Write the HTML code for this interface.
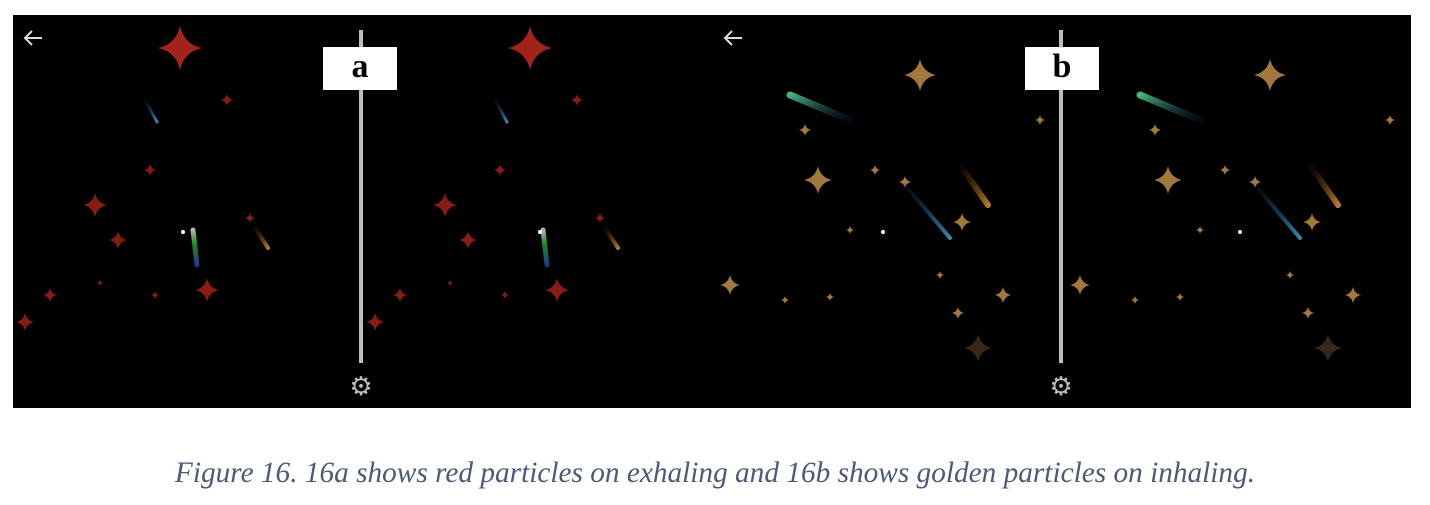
<!DOCTYPE html>
<html><head><meta charset="utf-8">
<style>
html,body{margin:0;padding:0;background:#fff;width:1430px;height:505px;overflow:hidden}
#panel{position:absolute;left:13px;top:15px;width:1398px;height:393px;background:#000}
.lbl{position:absolute;top:47px;width:74px;height:43px;background:#fff;font-family:"Liberation Serif",serif;font-weight:bold;font-size:34px;text-align:center;line-height:40px;color:#000}
#caption{position:absolute;left:0;width:1430px;top:457px;text-align:center;font-family:"Liberation Serif",serif;font-style:italic;font-size:29.3px;color:#4a5a78;white-space:nowrap}
</style></head><body>
<div id="panel"></div>
<svg id="svg" width="1430" height="505" style="position:absolute;left:0;top:0">
<defs>
<linearGradient id="gBlue" x1="0" y1="0" x2="1" y2="1"><stop offset="0" stop-color="#1a3a6a" stop-opacity="0.2"/><stop offset="1" stop-color="#4fc3ff"/></linearGradient>
<linearGradient id="gOrange" x1="0" y1="0" x2="1" y2="1"><stop offset="0" stop-color="#6a3a10" stop-opacity="0.2"/><stop offset="1" stop-color="#ffb040"/></linearGradient>
<linearGradient id="gGreen" x1="1" y1="1" x2="0" y2="0"><stop offset="0" stop-color="#1a3a6a" stop-opacity="0.2"/><stop offset="1" stop-color="#60ffb0"/></linearGradient>
<linearGradient id="gMulti" x1="0" y1="0" x2="0" y2="1"><stop offset="0" stop-color="#fff"/><stop offset="0.4" stop-color="#30c030"/><stop offset="1" stop-color="#3050c0"/></linearGradient>
</defs>
</svg>
<div class="lbl" style="left:323px">a</div>
<div class="lbl" style="left:1025px">b</div>
<div id="caption">Figure 16. 16a shows red particles on exhaling and 16b shows golden particles on inhaling.</div>
<script>
const svg=document.getElementById('svg');
const NS='http://www.w3.org/2000/svg';
const redStars=[[180,48,22],[227,100,6],[150,170,6],[95,205,12],[118,240,9],[250,218,5],[207,290,12],[50,295,7],[25,322,9],[155,295,4],[100,283,3]];
const goldStars=[[920,75,16],[805,130,6],[818,180,14],[875,170,5],[905,182,6],[962,222,9],[1003,295,8],[958,313,6],[730,285,10],[830,297,4],[978,348,14],[785,300,4],[940,275,4],[850,230,4],[1040,120,5]];
const comets=[[145,100,157,122,'url(#gBlue)',3],[193,230,197,265,'url(#gMulti)',5],[255,228,268,248,'url(#gOrange)',4],[790,95,850,120,'url(#gGreen)',7],[962,168,988,205,'url(#gOrange)',6],[905,185,950,238,'url(#gBlue)',4]];
function star(cx,cy,r,col,op){
  const p=document.createElementNS(NS,'path');
  const k=r*0.18;
  p.setAttribute('d',`M${cx},${cy-r}Q${cx+k},${cy-k} ${cx+r},${cy}Q${cx+k},${cy+k} ${cx},${cy+r}Q${cx-k},${cy+k} ${cx-r},${cy}Q${cx-k},${cy-k} ${cx},${cy-r}Z`);
  p.setAttribute('fill',col);p.setAttribute('opacity',op);
  
  
  svg.appendChild(p);
}
function comet(x1,y1,x2,y2,g,w){
  const l=document.createElementNS(NS,'line');
  l.setAttribute('x1',x1);l.setAttribute('y1',y1);l.setAttribute('x2',x2);l.setAttribute('y2',y2);
  l.setAttribute('stroke',g);l.setAttribute('stroke-width',w);l.setAttribute('stroke-linecap','round');l.setAttribute('opacity','0.7');
  
  
  svg.appendChild(l);
}
[0,350].forEach(o=>{
  redStars.forEach(s=>star(s[0]+o,s[1],s[2],'#c0281e',s[2]>15?0.85:0.7));
  goldStars.forEach(s=>star(s[0]+o,s[1],s[2],'#d8a050',s[0]==978?0.25:0.75));
  comets.forEach(c=>comet(c[0]+o,c[1],c[2]+o,c[3],c[4],c[5]));
});
[[361],[1061]].forEach(([x])=>{
  const l=document.createElementNS(NS,'rect');
  l.setAttribute('x',x-2);l.setAttribute('y',30);l.setAttribute('width',4);l.setAttribute('height',333);l.setAttribute('fill','#bdbdbd');
  
  
  svg.appendChild(l);
  const g=document.createElementNS(NS,'text');
  g.setAttribute('x',x);g.setAttribute('y',395);g.setAttribute('text-anchor','middle');g.setAttribute('fill','#bdbdbd');g.setAttribute('font-size','26');g.setAttribute('font-family','DejaVu Sans');
  g.textContent='⚙';
  
  
  svg.appendChild(g);
});
[33,733].forEach(x=>{
  const a=document.createElementNS(NS,'path');
  a.setAttribute('d',`M${x+9},38H${x-8}M${x-1},31L${x-8},38L${x-1},45`);
  a.setAttribute('stroke','#ddd');a.setAttribute('stroke-width','2');a.setAttribute('fill','none');
  
  
  svg.appendChild(a);
});
[[183,232],[883,232],[540,232],[1240,232]].forEach(d=>{
  const c=document.createElementNS(NS,'circle');
  c.setAttribute('cx',d[0]);c.setAttribute('cy',d[1]);c.setAttribute('r',2);c.setAttribute('fill','#fff');
  
  
  svg.appendChild(c);
});
</script>
</body></html>
